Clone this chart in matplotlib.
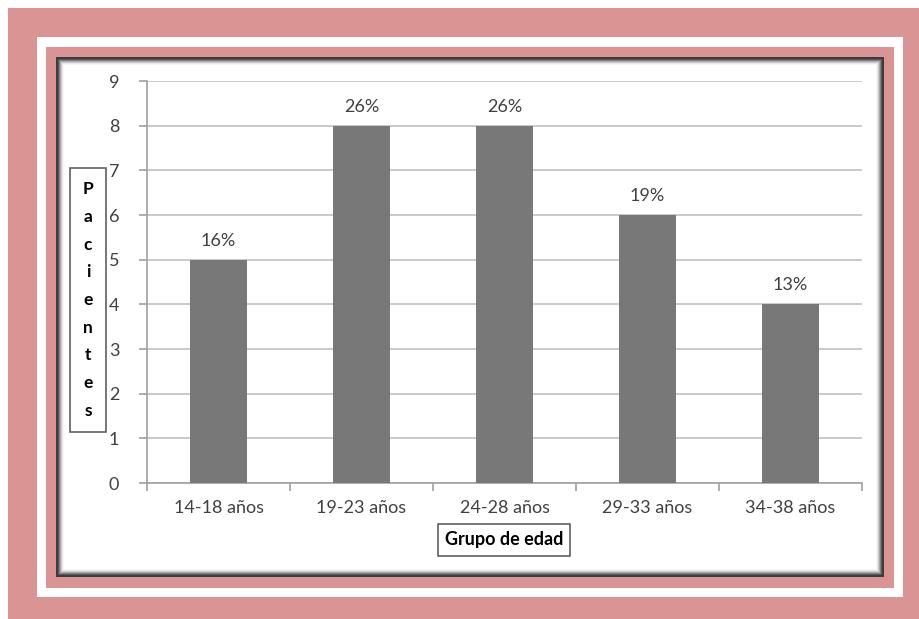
import matplotlib
matplotlib.use("Agg")
import matplotlib.pyplot as plt
from matplotlib.patches import Rectangle

# age groups and number of patients
grupos = ["14-18 años", "19-23 años", "24-28 años", "29-33 años", "34-38 años"]
pacientes = [5, 8, 8, 6, 4]

W, H = 919, 619
pink = "#da9494"
text_col = "#404040"
plt.rcParams["font.family"] = ["Lato", "DejaVu Sans"]

fig = plt.figure(figsize=(W / 100, H / 100), dpi=100)
fig.patch.set_facecolor("white")


def box(x0, y0, x1, y1, **kw):
    # rectangle given in pixel coordinates, origin at top-left
    fig.patches.append(Rectangle((x0 / W, 1 - y1 / H), (x1 - x0) / W, (y1 - y0) / H,
                                 transform=fig.transFigure, zorder=-5, **kw))


# framed background
box(8, 8, 919, 619, facecolor=pink, edgecolor="none")
box(37, 37, 903, 597, facecolor="white", edgecolor="none")
box(46, 47, 894, 588, facecolor=pink, edgecolor="none")
box(56, 57, 884, 577, facecolor="#3c3c3c", edgecolor="none")
# soft inner shadow of the chart panel
shades = ["#5a5a5a", "#808080", "#a8a8a8", "#cccccc", "#e6e6e6", "#f6f6f6"]
for i, c in enumerate(shades):
    box(58 + i, 59 + i, 882 - i, 575 - i, facecolor=c, edgecolor="none")
box(64, 65, 876, 569, facecolor="white", edgecolor="none")

ax = fig.add_axes([147 / W, 1 - 483 / H, (862 - 147) / W, (483 - 81) / H])
ax.set_facecolor("none")

x = range(len(grupos))
bars = ax.bar(x, pacientes, width=0.4, color="#787878", zorder=3)

total = sum(pacientes)
for b, v in zip(bars, pacientes):
    ax.text(b.get_x() + b.get_width() / 2, v + 0.25, f"{round(100 * v / total)}%",
            ha="center", va="bottom", fontsize=13, color=text_col)

ax.set_xlim(-0.5, len(grupos) - 0.5)
ax.set_ylim(0, 9)
ax.set_yticks(range(10))
ax.yaxis.grid(True, color="#c0c0c0", linewidth=1.2)
ax.set_axisbelow(True)

ax.set_xticks(list(x))
ax.set_xticklabels(grupos)
ax.set_xticks([i - 0.5 for i in range(len(grupos) + 1)], minor=True)
ax.tick_params(axis="x", which="major", length=0, pad=12, labelsize=13, labelcolor=text_col)
ax.tick_params(axis="x", which="minor", length=6, color="#a0a0a0", width=1.2)
ax.tick_params(axis="y", length=6, color="#a0a0a0", width=1.2, pad=14,
               labelsize=13, labelcolor=text_col)

for s in ["top", "right"]:
    ax.spines[s].set_visible(False)
for s in ["left", "bottom"]:
    ax.spines[s].set_color("#a0a0a0")
    ax.spines[s].set_linewidth(1.2)

# axis titles in boxes
fig.text(88 / W, 1 - 300 / H, "\n".join("Pacientes"), ha="center", va="center",
         fontsize=12.5, fontweight="bold", color="black", linespacing=1.9,
         bbox=dict(boxstyle="square,pad=0.75", facecolor="white", edgecolor="#606060", linewidth=1.2))
fig.text(504 / W, 1 - 540 / H, "Grupo de edad", ha="center", va="center",
         fontsize=13, fontweight="bold", color="black",
         bbox=dict(boxstyle="square,pad=0.4", facecolor="white", edgecolor="#606060", linewidth=1.2))

fig.savefig("out.png", dpi=100)
